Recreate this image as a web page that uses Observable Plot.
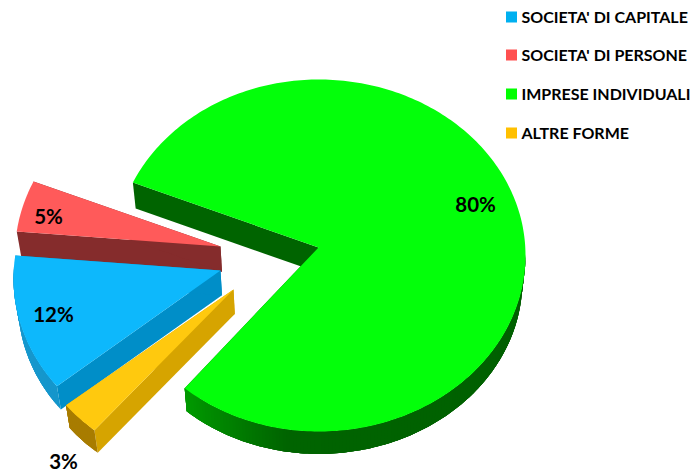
<!DOCTYPE html>
<html>
<head>
<meta charset="utf-8">
<style>html,body{margin:0;padding:0;background:#fff}svg{display:block}</style>
<script src="https://cdn.jsdelivr.net/npm/d3@7"></script>
<script src="https://cdn.jsdelivr.net/npm/@observablehq/plot@0.6"></script>
</head>
<body>
<script>
// Data
const names = ["SOCIETA' DI CAPITALE", "SOCIETA' DI PERSONE", "IMPRESE INDIVIDUALI", "ALTRE FORME"];
const shares = [12, 5, 80, 3];
const percentLabels = ["12%", "5%", "80%", "3%"];

// Styles
const legendColors = ["#00b0f0", "#ff5050", "#00ff00", "#ffc000"];
const topColors = ["#0db8fc", "#ff5a5a", "#03ff0a", "#ffc90e"];
const cutColors = ["#008ec8", "#852c2c", "#006400", "#d6a400"];
const outerStops = [
  [[170, 275], ["#0c8ec4", "#1a9bd0"]],
  [[170, 300], ["#852c2c", "#852c2c"]],
  [[90, 190, 222], ["#005f00", "#006400", "#009a00"]],
  [[170, 275], ["#a87c00", "#a87c00"]]
];

// Pie layout (Excel-like 3-D pie with exploded slices)
const W = 691, H = 473;
const firstAngle = 232.8, rxRight = 207, ry = 176, thickness = 25, depthScale = 0.985;
const rxLeft = [207, 205.5, 204, 212];
const vanish = [318, 255];
const arcDrop = 8;                        // ellipse centre lies below the apex
const apexes = [[220, 270], [220, 246], [318, 247], [233, 289]]; // exploded apex of each slice
const warp = d3.scaleLinear().domain([0, 222, 232.8, 276, 294, 360]).range([0, -1, -0.6, 1.5, 0.5, 0]); // perspective
const labelPolar = [[254.9, 0.834], [283, 0.863], [69.8, 0.81], [221.6, 1.232]];
const legendX = 506, legendBox = 11, legendTextX = 521, legendRows = [17, 55, 94, 133];

const total = d3.sum(shares);
const rad = d => d * Math.PI / 180;
let acc = firstAngle;
const slices = shares.map((v, i) => {
  const a0 = acc, a1 = acc + v / total * 360;
  acc = a1;
  return {i, a0, a1};
});
const polar = (i, th, r = 1) => {
  const [ax, ay] = apexes[i];
  const m = ((th % 360) + 360) % 360;
  const t = th + warp(m);
  const s = Math.sin(rad(t));
  return [ax + r * (s < 0 ? rxLeft[i] : rxRight) * s, ay + arcDrop - r * ry * Math.cos(rad(t))];
};
const lower = ([x, y]) => [vanish[0] + depthScale * (x - vanish[0]), vanish[1] + depthScale * (y - vanish[1]) + thickness];
const sweep = s => {
  const out = [];
  for (let t = s.a0; t < s.a1; t += 1) out.push(t);
  out.push(s.a1);
  return out;
};

const pts = [];
let nid = 0;
const addPoly = (poly, col) => {
  const id = nid++;
  poly.forEach(([x, y]) => pts.push({x, y, id, col}));
};
const overlap = 5; // wall pieces overlap the next so no seams show
// painter's order: back to front
for (const s of [slices[1], slices[0], slices[3], slices[2]]) {
  const apex = apexes[s.i];
  for (const th of [s.a0, s.a1]) {
    const p = polar(s.i, th);
    addPoly([apex, p, lower(p), lower(apex)], cutColors[s.i]);
  }
  const [dom, rng] = outerStops[s.i];
  const colour = d3.scaleLinear().domain(dom).range(rng).clamp(true);
  const ts = sweep(s);
  for (let k = 0; k < ts.length - 1; k++) {
    const m = ((ts[k] + ts[k + 1]) / 2) % 360;
    if (m < 90 || m > 270) continue;
    const seg = ts.slice(k, Math.min(k + overlap, ts.length)).map(t => polar(s.i, t));
    addPoly([...seg, ...seg.slice().reverse().map(lower)], colour(m));
  }
  addPoly([apex, ...ts.map(t => polar(s.i, t))], topColors[s.i]);
}

const labelRows = slices.map(s => {
  const [th, r] = labelPolar[s.i];
  const [x, y] = polar(s.i, th, r);
  return {x, y, t: percentLabels[s.i]};
});
const legendRowsData = names.map((n, i) => ({
  name: n, col: legendColors[i], y: legendRows[i],
  x1: legendX, x2: legendX + legendBox, y1: legendRows[i] - legendBox / 2, y2: legendRows[i] + legendBox / 2
}));

const font = "Lato, 'Open Sans', sans-serif";
const chart = Plot.plot({
  width: W, height: H, margin: 0,
  x: {domain: [0, W], range: [0, W], axis: null},
  y: {domain: [0, H], range: [0, H], axis: null},
  color: {type: "identity"},
  style: {background: "#fff"},
  marks: [
    Plot.line(pts, {x: "x", y: "y", z: "id", fill: "col", stroke: "none", curve: "linear-closed"}),
    Plot.rect(legendRowsData, {x1: "x1", x2: "x2", y1: "y1", y2: "y2", fill: "col"}),
    Plot.text(legendRowsData, {x: legendTextX, y: "y", text: "name", textAnchor: "start", fontFamily: font, fontWeight: 700, fontSize: 16, fill: "#000"}),
    Plot.text(labelRows, {x: "x", y: "y", text: "t", fontFamily: font, fontWeight: 700, fontSize: 20.5, fill: "#000"})
  ]
});
document.body.appendChild(chart);
</script>
</body>
</html>
